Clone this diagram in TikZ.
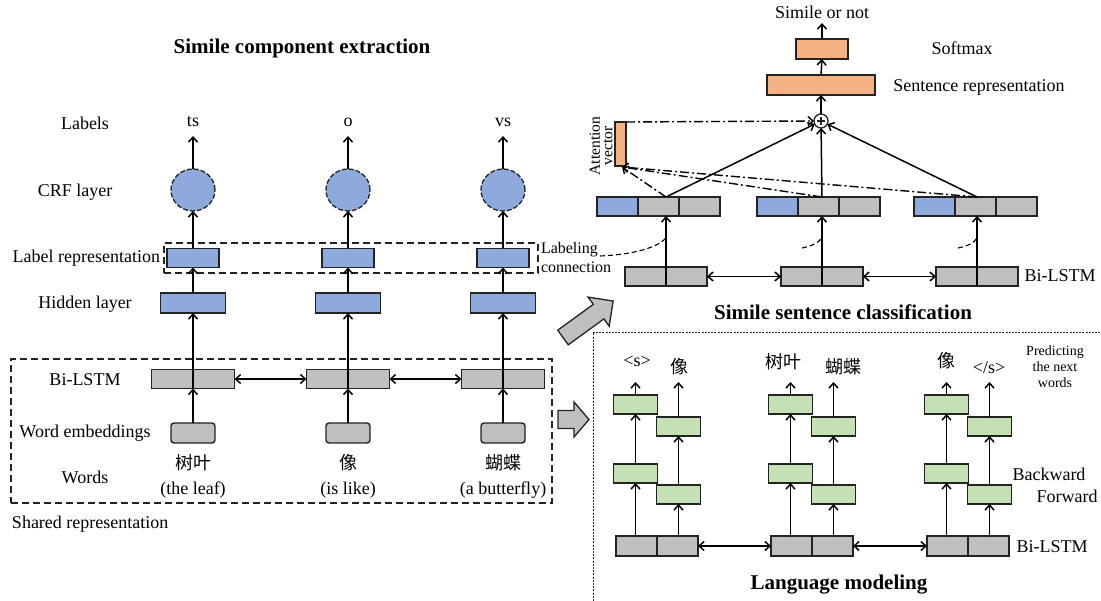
\documentclass[tikz,border=0pt]{standalone}
\usepackage{fontspec}
\setmainfont{Liberation Serif}
\newfontfamily\cjk{Noto Sans CJK SC}
\usetikzlibrary{arrows.meta,shapes.geometric,calc}
\definecolor{cblue}{RGB}{142,169,219}
\definecolor{cgray}{RGB}{191,191,191}
\definecolor{corange}{RGB}{244,177,131}
\definecolor{cgreen}{RGB}{197,224,180}
\definecolor{cline}{RGB}{35,35,35}
\begin{document}
\begin{tikzpicture}[x=1pt,y=-1pt,
  every node/.style={font=\fontsize{18}{21}\selectfont, inner sep=0pt, outer sep=0pt},
  box/.style={draw=cline, line width=1.4pt, minimum height=19pt},
  bluebox/.style={box, fill=cblue},
  graybox/.style={box, fill=cgray},
  orangebox/.style={box, fill=corange},
  greenbox/.style={box, fill=cgreen, minimum width=44pt},
  embbox/.style={box, fill=cgray, minimum width=44pt, minimum height=20pt, rounded corners=3pt},
  crf/.style={ellipse, draw=cline, dash pattern=on 5pt off 2pt, fill=cblue, line width=1.3pt, minimum width=44pt, minimum height=42pt},
  conn/.style={line width=1.5pt, -{Straight Barb[length=5pt,width=9pt]}},
  dconn/.style={line width=1.5pt, {Straight Barb[length=5pt,width=9pt]}-{Straight Barb[length=5pt,width=9pt]}},
  ddconn/.style={line width=1.4pt, dash pattern=on 9pt off 3pt on 2pt off 3pt, -{Straight Barb[length=5pt,width=9pt]}},
  grpbox/.style={draw=cline, line width=1.3pt, dash pattern=on 7pt off 4pt},
  title/.style={font=\fontsize{21}{24}\selectfont\bfseries},
  smalltxt/.style={font=\fontsize{16}{19}\selectfont},
  tinytxt/.style={font=\fontsize{14}{16}\selectfont},
  cjktxt/.style={font=\cjk\fontsize{18}{21}\selectfont},
  blockarrow/.style={fill=cgray, draw=cline, line width=1.3pt, line join=miter},
  lcurve/.style={line width=1.1pt, dash pattern=on 5pt off 3pt},
]
\useasboundingbox (0,0) rectangle (1101,601);

% ---------------- Left: simile component extraction ----------------
\node[title] (tleft) at (302,48) {Simile component extraction};

\node (rl1) at (85,123) {Labels};
\node (rl2) at (75,192) {CRF layer};
\node[anchor=east] (rl3) at (160,258) {Label representation};
\node (rl4) at (85,304) {Hidden layer};
\node (rl5) at (85,380) {Bi-LSTM};
\node (rl6) at (85,433) {Word embeddings};
\node (rl7) at (85,477) {Words};
\node[anchor=west] (rl8) at (12,524) {Shared representation};

\node[grpbox, minimum width=374pt, minimum height=30pt] (lrgrp) at (351,258) {};
\node[grpbox, minimum width=541pt, minimum height=144pt] (shared) at (281.5,431) {};

\foreach \i/\x in {1/193,2/348,3/503}{
  \coordinate (labtip\i) at (\x,136);
  \node[crf] (crf\i) at (\x,190) {};
  \node[bluebox, minimum width=52pt] (lr\i) at (\x,258) {};
  \node[bluebox, minimum width=65pt, minimum height=20pt] (hid\i) at (\x,303) {};
  \node[graybox, minimum width=83pt] (bil\i) at (\x,379) {};
  \node[embbox] (emb\i) at (\x,433) {};
}
\node (lab1) at (193,122) {ts};
\node (lab2) at (348,122) {o};
\node (lab3) at (503,122) {vs};
\node[cjktxt] (cw1) at (193,463) {树叶};
\node[cjktxt] (cw2) at (348,463) {像};
\node[cjktxt] (cw3) at (503,463) {蝴蝶};
\node (ew1) at (193,490) {(the leaf)};
\node (ew2) at (348,490) {(is like)};
\node (ew3) at (503,490) {(a butterfly)};

\foreach \i in {1,2,3}{
  \draw[conn] (crf\i.north) -- (labtip\i);
  \draw[conn] (lr\i.north) -- (crf\i.south);
  \draw[conn] (hid\i.north) -- (lr\i.south);
  \draw[conn] (bil\i.south) -- (hid\i.south);
  \draw[conn] (emb\i.north) -- (bil\i.south);
}
\draw[dconn] (bil1.east) -- (bil2.west);
\draw[dconn] (bil2.east) -- (bil3.west);

\node[smalltxt, anchor=west, align=left] (lct) at (541,258) {Labeling\\connection};

% block arrows
\draw[blockarrow] (558,410.5) -- (574,410.5) -- (574,402) -- (589,419.5) -- (574,437) -- (574,428.5) -- (558,428.5) -- cycle;
\begin{scope}[shift={(563,337.5)}, rotate=36]
  \draw[blockarrow] (0,-9) -- (44,-9) -- (44,-18) -- (62,0) -- (44,18) -- (44,9) -- (0,9) -- cycle;
\end{scope}

% ---------------- Right top: simile sentence classification ----------------
\node (son) at (822,12) {Simile or not};
\coordinate (sontip) at (822,23);
\node[orangebox, minimum width=52pt, minimum height=20pt] (soft) at (822,49) {};
\node (softl) at (962,48) {Softmax};
\node[orangebox, minimum width=108pt, minimum height=20pt] (sent) at (821,85) {};
\node (sentl) at (979,87) {Sentence representation};
\node[circle, draw=cline, line width=1.3pt, minimum size=14pt, fill=white,
  path picture={\draw[line width=1.1pt] ([xshift=-4pt]path picture bounding box.center) -- ([xshift=4pt]path picture bounding box.center) ([yshift=-4pt]path picture bounding box.center) -- ([yshift=4pt]path picture bounding box.center);}] (plus) at (821,121) {};
\draw[conn] (soft.north) -- (sontip);
\draw[conn] (sent.north) -- (soft.south);
\draw[conn] (plus.north) -- (sent.south);

\node[orangebox, minimum width=11pt, minimum height=44pt] (att) at (620.5,144) {};
\node[rotate=90, align=center, font=\fontsize{15.5}{12.5}\selectfont] (attl) at (601,146) {Attention\\vector};

\foreach \i/\s in {1/597,2/757,3/914}{
  \node[bluebox, minimum width=41pt] (g\i a) at (\s+20.5,206.5) {};
  \node[graybox, minimum width=41pt] (g\i b) at (\s+61.5,206.5) {};
  \node[graybox, minimum width=41pt] (g\i c) at (\s+102.5,206.5) {};
}
\foreach \i/\x in {1/666,2/822,3/977}{
  \node[graybox, minimum width=82pt] (rb\i) at (\x,276.5) {};
  \coordinate (gt\i) at (\x,197);
  \coordinate (gb\i) at (\x,216);
  \coordinate (lc\i) at (\x,238);
}
\foreach \i in {1,2,3}{
  \draw[conn] (rb\i.south) -- (gb\i);
  \draw[conn] (gt\i) -- (plus);
  \draw[ddconn] (gt\i) -- ($(att.south)+(1.5,1)$);
}
\draw[ddconn] (att.north east) -- (plus.west);
\draw[dconn] (rb1.east) -- (rb2.west);
\draw[dconn] (rb2.east) -- (rb3.west);
\node (rbl) at (1060,276) {Bi-LSTM};

\coordinate (lcs) at (600,256);
\coordinate (lc2s) at (802,248);
\coordinate (lc3s) at (958,248);
\draw[lcurve] (lcs) .. controls (625,255) and (655,250) .. (lc1);
\draw[lcurve] (lc2s) .. controls (812,246) and (818,243) .. (lc2);
\draw[lcurve] (lc3s) .. controls (968,246) and (974,243) .. (lc3);

\node[title] (tright) at (843,312) {Simile sentence classification};

% ---------------- Right bottom: language modeling ----------------
\draw[cline, line width=0.9pt, dash pattern=on 2pt off 1.2pt] (593,601) -- (593,332) -- (1101,332);

\foreach \i/\c in {1/657,2/812,3/968}{
  \node[graybox, minimum width=82pt, minimum height=20pt] (lb\i) at (\c,546) {};
  \draw[line width=1.4pt, cline] (lb\i.north) -- (lb\i.south);
  \node[greenbox] (lu\i) at (\c-21.5,404.5) {};
  \node[greenbox] (ll\i) at (\c-21.5,473.5) {};
  \node[greenbox] (ru\i) at (\c+21.5,426.5) {};
  \node[greenbox] (rl\i) at (\c+21.5,494.5) {};
  \coordinate (lt\i) at (\c-21.5,382);
  \coordinate (rt\i) at (\c+21.5,382);
  \draw[conn] (lb\i.north -| ll\i) -- (ll\i.south);
  \draw[conn] (ll\i.north) -- (lu\i.south);
  \draw[conn] (lu\i.north) -- (lt\i);
  \draw[conn] (lb\i.north -| rl\i) -- (rl\i.south);
  \draw[conn] (rl\i.north) -- (ru\i.south);
  \draw[conn] (ru\i.north) -- (rt\i);
}
\draw[dconn] (lb1.east) -- (lb2.west);
\draw[dconn] (lb2.east) -- (lb3.west);

\node (w1l) at (637,361) {<s>};
\node[cjktxt] (w1r) at (679,367) {像};
\node[cjktxt] (w2l) at (783,362) {树叶};
\node[cjktxt] (w2r) at (843,367) {蝴蝶};
\node[cjktxt] (w3l) at (946,361) {像};
\node (w3r) at (989,368) {</s>};

\node[tinytxt, align=center] (pred) at (1055,367) {Predicting\\the next\\words};
\node (bwd) at (1049,474) {Backward};
\node (fwd) at (1067,496) {Forward};
\node (lbl) at (1052,547) {Bi-LSTM};
\node[title] (tlm) at (839,585) {Language modeling};
\end{tikzpicture}
\end{document}
